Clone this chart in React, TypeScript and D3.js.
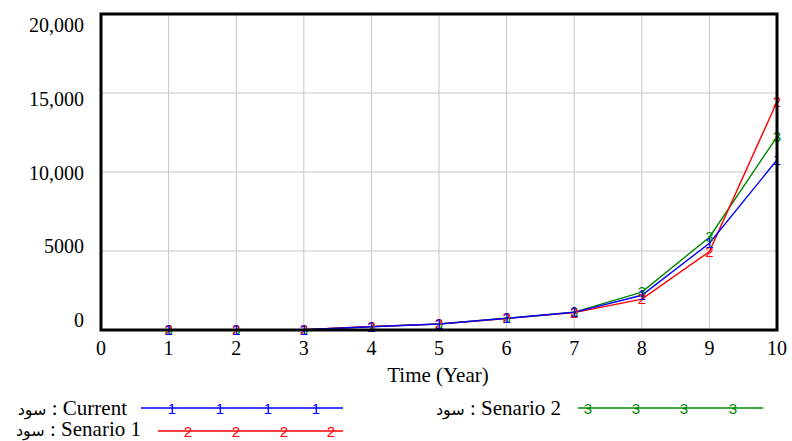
import React from "react";
import * as d3 from "d3";

const years = [0, 1, 2, 3, 4, 5, 6, 7, 8, 9, 10];
const current = [0, 10, 15, 20, 210, 380, 740, 1120, 2200, 5490, 10760];
const senario1 = [0, 10, 15, 20, 220, 370, 730, 1100, 1950, 4960, 14450];
const senario2 = [0, 10, 15, 20, 215, 385, 745, 1130, 2400, 5870, 12230];
const yTicks = [0, 5000, 10000, 15000, 20000];
const yTickLabels = ["0", "5000", "10,000", "15,000", "20,000"];
const xTicks = [0, 1, 2, 3, 4, 5, 6, 7, 8, 9, 10];

const series = [
  { name: "Current", values: current, color: "#0000ff", mark: "1" },
  { name: "Senario 1", values: senario1, color: "#ff0000", mark: "2" },
  { name: "Senario 2", values: senario2, color: "#008800", mark: "3" },
];

export default function App() {
  const W = 792, H = 441;
  const left = 101, right = 777, top = 14, bottom = 330;
  const x = d3.scaleLinear().domain([0, 10]).range([left, right]);
  const y = d3.scaleLinear().domain([0, 20000]).range([bottom, top]);
  const yLab = d3.scaleLinear().domain([0, 20000]).range([320, 25]);
  const line = d3.line<number>().x((_, i) => x(years[i])).y((d) => y(d));
  const serif = "'Liberation Serif', 'Times New Roman', serif";
  const sans = "'Liberation Sans', Arial, sans-serif";
  const drawOrder = [series[2], series[1], series[0]];

  const legend = [
    { s: series[0], textX: 127, ty: 408, textY: 415, x1: 141, x2: 343, marks: [172, 220, 268, 316] },
    { s: series[1], textX: 141, ty: 431, textY: 436, x1: 158, x2: 343, marks: [188, 236, 284, 331] },
    { s: series[2], textX: 561, ty: 408, textY: 415, x1: 578, x2: 763, marks: [588, 636, 684, 733] },
  ];

  return (
    <svg width={W} height={H} style={{ position: "absolute", left: 0, top: 0, background: "#fff" }}>
      {xTicks.slice(1, -1).map((t) => (
        <line key={"gx" + t} x1={x(t)} x2={x(t)} y1={top} y2={bottom} stroke="#c8c8c8" strokeWidth={1} />
      ))}
      {yTicks.slice(1, -1).map((t) => (
        <line key={"gy" + t} x1={left} x2={right} y1={y(t)} y2={y(t)} stroke="#c8c8c8" strokeWidth={1} />
      ))}
      {drawOrder.map((s) => (
        <path key={s.name} d={line(s.values) || ""} fill="none" stroke={s.color} strokeWidth={1.4} />
      ))}
      {drawOrder.map((s) =>
        s.values.map((v, i) =>
          i === 0 ? null : (
            <text key={s.name + i} x={x(years[i])} y={y(v) + 5} textAnchor="middle" fontFamily={sans} fontSize={15} fill={s.color}>
              {s.mark}
            </text>
          )
        )
      )}
      <rect x={left} y={top} width={right - left} height={bottom - top} fill="none" stroke="#000" strokeWidth={3} />
      {yTicks.map((t, i) => (
        <text key={"yl" + t} x={84} y={yLab(t) + 7} textAnchor="end" fontFamily={serif} fontSize={20} fill="#000">
          {yTickLabels[i]}
        </text>
      ))}
      {xTicks.map((t) => (
        <text key={"xl" + t} x={x(t)} y={355} textAnchor="middle" fontFamily={serif} fontSize={20} fill="#000">
          {t}
        </text>
      ))}
      <text x={438} y={382} textAnchor="middle" fontFamily={serif} fontSize={21} fill="#000">Time (Year)</text>
      {legend.map((l) => (
        <g key={"lg" + l.s.name}>
          <text x={l.textX} y={l.textY} textAnchor="end" fontFamily={serif} fontSize={21} fill="#000" direction="ltr">
            <tspan fontFamily="'DejaVu Sans', sans-serif" fontSize={16}>سود</tspan>
            <tspan>{" : " + l.s.name}</tspan>
          </text>
          <line x1={l.x1} x2={l.x2} y1={l.ty} y2={l.ty} stroke={l.s.color} strokeWidth={1.4} />
          {l.marks.map((mx, j) => (
            <text key={j} x={mx} y={l.ty + 6} textAnchor="middle" fontFamily={sans} fontSize={15} fill={l.s.color}>
              {l.s.mark}
            </text>
          ))}
        </g>
      ))}
    </svg>
  );
}
